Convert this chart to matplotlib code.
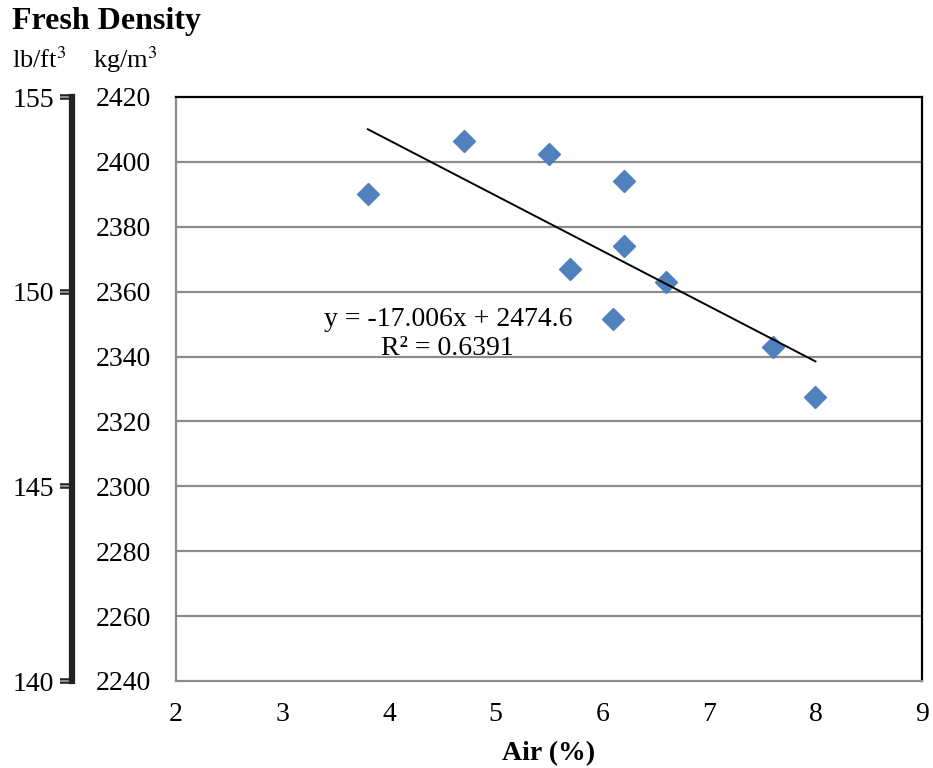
import numpy as np
import matplotlib.pyplot as plt
import matplotlib.transforms as mtransforms

plt.rcParams['font.family'] = ['Liberation Serif', 'DejaVu Serif']
plt.rcParams['mathtext.fontset'] = 'stix'

# data
air = [3.8, 4.7, 5.5, 6.2, 5.7, 6.2, 6.6, 6.1, 7.6, 8.0]
density = [2390, 2406.5, 2402.5, 2394, 2367, 2374, 2363, 2351.5, 2343, 2327.5]
kg_ticks = [2240, 2260, 2280, 2300, 2320, 2340, 2360, 2380, 2400, 2420]
lb_ticks = [140, 145, 150, 155]
x_ticks = [2, 3, 4, 5, 6, 7, 8, 9]

fig = plt.figure(figsize=(9.33, 7.68), dpi=100)
W, H = 933, 768

def frac(x0, y0, x1, y1):
    return [x0 / W, 1 - y1 / H, (x1 - x0) / W, (y1 - y0) / H]

ax = fig.add_axes(frac(176, 97, 922, 681))
ax.set_xlim(2, 9)
ax.set_ylim(2240, 2420)
ax.set_xticks(x_ticks)
ax.set_yticks(kg_ticks)
ax.tick_params(length=0, labelsize=20, pad=18)
ax.tick_params(axis='x', pad=15)
for y in kg_ticks[1:-1]:
    ax.axhline(y, color='#8c8c8c', lw=1.6, zorder=0)
for s in ['left', 'bottom']:
    ax.spines[s].set_color('#8c8c8c')
    ax.spines[s].set_linewidth(1.6)
for s in ['top', 'right']:
    ax.spines[s].set_color('black')
    ax.spines[s].set_linewidth(1.6)

ax.plot(air, density, 'D', color='#4f81bd', markersize=11.5, zorder=3)

# linear trendline
k, b = np.polyfit(air, density, 1)
xs = np.array([min(air), max(air)])
ax.plot(xs, k * xs + b, color='black', lw=1.4, zorder=4)

ax.text(4.55, 2351.5, 'y = -17.006x + 2474.6', ha='center', va='center', fontsize=20)
ax.text(4.55, 2342.5, 'R² = 0.6391', ha='center', va='center', fontsize=20)

ax.set_xlabel('Air (%)', fontsize=20, fontweight='bold', labelpad=10)

# secondary lb/ft3 axis on the left
ax2 = fig.add_axes(frac(72, 97, 73, 681))
ax2.set_ylim(140, 155)
ax2.set_yticks(lb_ticks)
ax2.set_xticks([])
for s in ['top', 'right', 'bottom']:
    ax2.spines[s].set_visible(False)
ax2.spines['left'].set_linewidth(4.5)
ax2.spines['left'].set_color('#222222')
ax2.tick_params(axis='y', length=9, width=4, color='#222222', labelsize=20, pad=4)
ax2.patch.set_visible(False)
# grey core of the double line
ax2.plot([0, 0], [0, 1], transform=ax2.transAxes, color='#9a9a9a', lw=1.5,
         clip_on=False, solid_capstyle='butt')
tick_tr = mtransforms.blended_transform_factory(ax2.transAxes, ax2.transData)
off = mtransforms.ScaledTranslation(-4.5 / 72, 0, fig.dpi_scale_trans)
for t in lb_ticks:
    ax2.plot([0], [t], transform=tick_tr + off, marker='_', markersize=8,
             color='#9a9a9a', mew=1.3, clip_on=False)

fig.text(12 / W, 1 - 22 / H, 'Fresh Density', fontsize=23, fontweight='bold', va='center')
fig.text(12 / W, 1 - 60 / H, r'lb/ft$^{3}$', fontsize=19, va='center')
fig.text(93 / W, 1 - 60 / H, r'kg/m$^{3}$', fontsize=19, va='center')

fig.savefig('out.png', dpi=100)
